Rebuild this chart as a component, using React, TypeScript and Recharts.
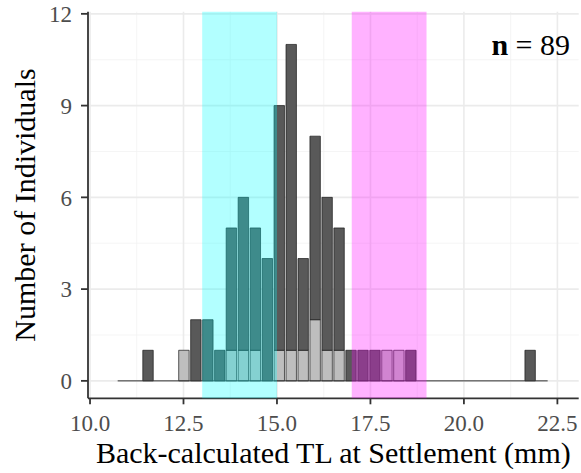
import React from 'react'
import {
  ComposedChart,
  Bar,
  XAxis,
  YAxis,
  CartesianGrid,
  ReferenceArea,
  ReferenceLine,
  Label,
} from 'recharts'

// histogram bins (mid points, mm) that hold at least one fish
const binMids = [
  11.54, 12.5, 12.82, 13.14, 13.46, 13.77, 14.09, 14.41, 14.73, 15.05, 15.37,
  15.69, 16.01, 16.33, 16.65, 16.97, 17.29, 17.61, 17.93, 18.25, 18.57, 21.76,
]
const lightCounts = [0, 1, 0, 0, 0, 1, 1, 1, 0, 1, 1, 1, 2, 1, 1, 0, 0, 0, 1, 1, 0, 0]
const darkCounts = [1, 0, 2, 2, 1, 4, 5, 4, 4, 8, 10, 3, 6, 5, 4, 1, 1, 1, 0, 0, 1, 1]
const binWidth = 0.3194
const histRange = [10.74, 22.24]

const xTicks = [10, 12.5, 15, 17.5, 20, 22.5]
const xMinor = [11.25, 13.75, 16.25, 18.75, 21.25]
const yTicks = [0, 3, 6, 9, 12]
const yMinor = [1.5, 4.5, 7.5, 10.5]

const cyanBand = [13, 15]
const magentaBand = [17, 19]

const xDomain = [9.946, 23.07]
const yDomain = [-0.57, 12.07]

const data = binMids.map((mid, i) => ({
  mid,
  light: lightCounts[i],
  dark: darkCounts[i],
}))

const W = 581
const H = 473
const margin = { top: 11.7, right: 2.3, bottom: 0, left: 0 }
const yAxisWidth = 88
const xAxisHeight = 74.7
const plotW = W - margin.left - margin.right - yAxisWidth
const barPx = (binWidth * plotW) / (xDomain[1] - xDomain[0])

const serif = "'Liberation Serif', 'Times New Roman', serif"
const tickStyle = { fontSize: 23, fill: '#4D4D4D', fontFamily: serif }

export default function App() {
  return (
    <div style={{ position: 'absolute', left: 0, top: 0, width: W, height: H, background: '#fff' }}>
      <ComposedChart width={W} height={H} data={data} margin={margin}>
        <CartesianGrid
          stroke="#F2F2F2"
          strokeWidth={0.8}
          verticalValues={xMinor}
          horizontalValues={yMinor}
        />
        <CartesianGrid
          stroke="#EBEBEB"
          strokeWidth={1.6}
          verticalValues={xTicks}
          horizontalValues={yTicks}
        />
        <XAxis
          dataKey="mid"
          type="number"
          domain={xDomain}
          allowDataOverflow
          ticks={xTicks}
          tickFormatter={(v) => Number(v).toFixed(1)}
          height={xAxisHeight}
          tick={tickStyle}
          tickSize={6}
          tickMargin={10}
          axisLine={{ stroke: '#333', strokeWidth: 1.8 }}
          tickLine={{ stroke: '#333', strokeWidth: 1.8 }}
        >
          <Label
            content={({ viewBox }: any) => (
              <text
                x={viewBox.x + viewBox.width / 2}
                y={463}
                textAnchor="middle"
                fontSize={30}
                fontFamily={serif}
                fill="#000"
              >
                Back-calculated TL at Settlement (mm)
              </text>
            )}
          />
        </XAxis>
        <XAxis
          xAxisId="top"
          orientation="top"
          type="number"
          domain={xDomain}
          allowDataOverflow
          height={0}
          tick={false}
          tickLine={false}
          axisLine={{ stroke: '#555', strokeWidth: 1 }}
        />
        <YAxis
          type="number"
          domain={yDomain}
          allowDataOverflow
          ticks={yTicks}
          width={yAxisWidth}
          tick={tickStyle}
          tickSize={7}
          tickMargin={9}
          axisLine={{ stroke: '#333', strokeWidth: 1.8 }}
          tickLine={{ stroke: '#333', strokeWidth: 1.8 }}
        >
          <Label
            content={({ viewBox }: any) => {
              const cy = viewBox.y + viewBox.height / 2
              return (
                <text
                  x={35}
                  y={cy}
                  transform={`rotate(-90, 35, ${cy})`}
                  textAnchor="middle"
                  fontSize={30}
                  fontFamily={serif}
                  fill="#000"
                >
                  Number of Individuals
                </text>
              )
            }}
          />
        </YAxis>
        <YAxis
          yAxisId="right"
          orientation="right"
          type="number"
          domain={yDomain}
          allowDataOverflow
          width={0}
          tick={false}
          tickLine={false}
          axisLine={{ stroke: '#555', strokeWidth: 1 }}
        />
        <ReferenceLine
          segment={[
            { x: histRange[0], y: 0 },
            { x: histRange[1], y: 0 },
          ]}
          stroke="#333"
          strokeWidth={1}
        />
        <Bar
          dataKey="light"
          stackId="h"
          fill="#BEBEBE"
          stroke="#1a1a1a"
          strokeWidth={0.7}
          barSize={barPx}
          isAnimationActive={false}
        />
        <Bar
          dataKey="dark"
          stackId="h"
          fill="#595959"
          stroke="#1a1a1a"
          strokeWidth={0.7}
          barSize={barPx}
          isAnimationActive={false}
        />
        <ReferenceArea
          x1={cyanBand[0]}
          x2={cyanBand[1]}
          fill="#00FFFF"
          fillOpacity={0.3}
          stroke="none"
          zIndex={1000}
        />
        <ReferenceArea
          x1={magentaBand[0]}
          x2={magentaBand[1]}
          fill="#FF00FF"
          fillOpacity={0.3}
          stroke="none"
          zIndex={1000}
        />
      </ComposedChart>
      <div
        style={{
          position: 'absolute',
          right: 11,
          top: 30,
          fontFamily: serif,
          fontSize: 30,
          lineHeight: '30px',
          color: '#000',
          whiteSpace: 'nowrap',
        }}
      >
        <b>n</b> = 89
      </div>
    </div>
  )
}
